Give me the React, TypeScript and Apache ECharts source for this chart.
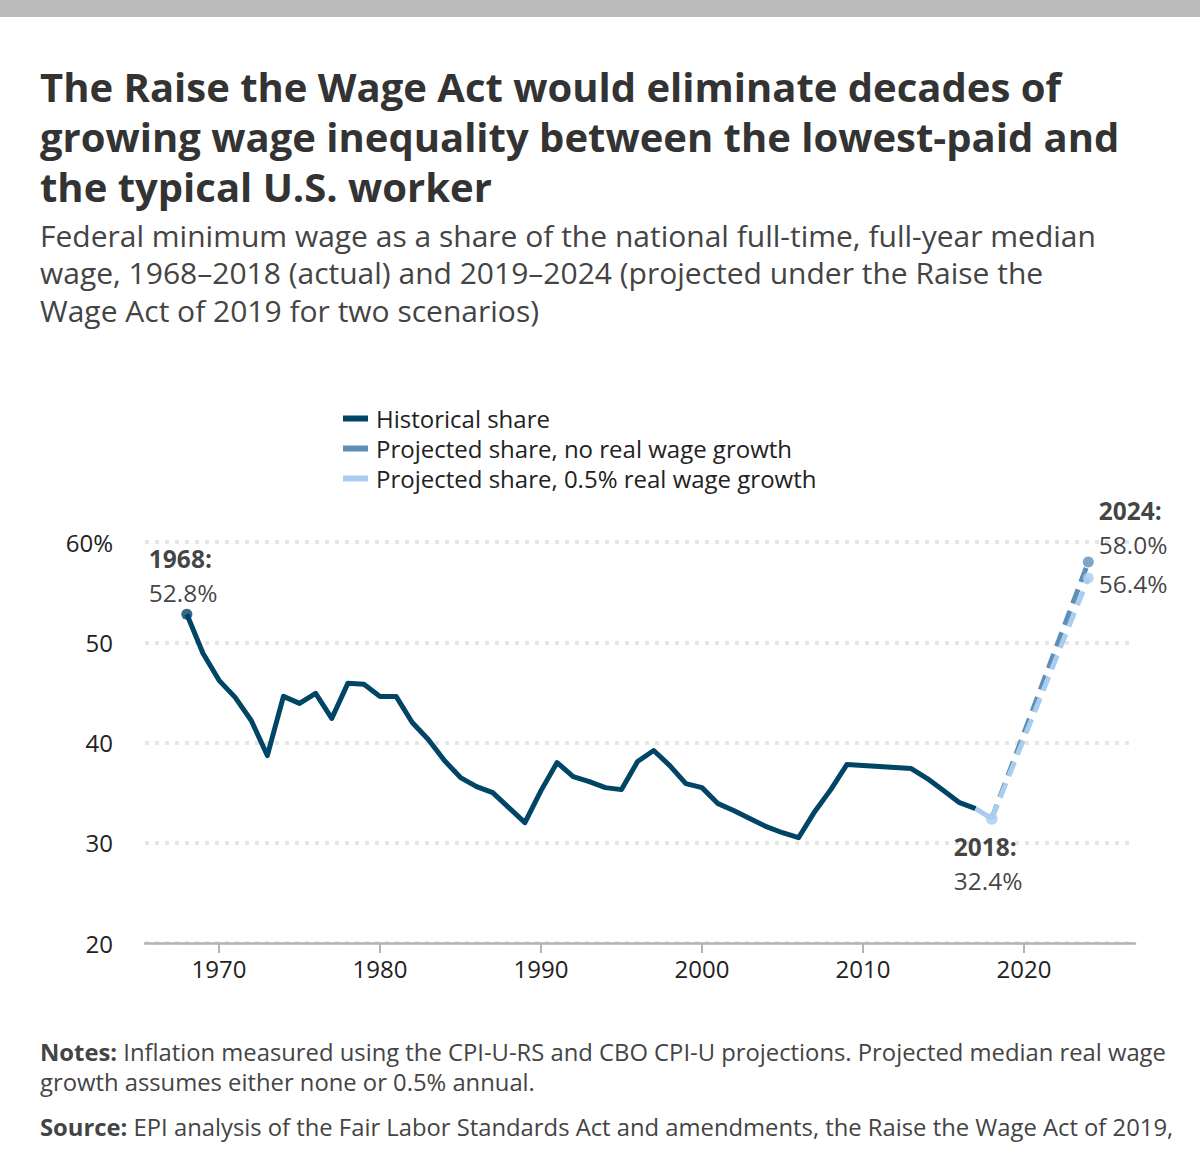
import React, { useEffect, useRef } from "react";
import * as echarts from "echarts";

const HIST_START = 1968;
const HIST_VALUES = [
  52.8, 48.9, 46.2, 44.5, 42.2, 38.7, 44.6, 43.9, 44.9, 42.4,
  45.9, 45.8, 44.6, 44.6, 42.0, 40.3, 38.2, 36.5, 35.6, 35.0,
  33.5, 32.0, 35.2, 38.0, 36.6, 36.1, 35.5, 35.3, 38.1, 39.2,
  37.7, 35.9, 35.5, 33.9, 33.2, 32.4, 31.6, 31.0, 30.5, 33.1,
  35.3, 37.8, 37.7, 37.6, 37.5, 37.4, 36.4, 35.2, 34.0, 33.4,
  32.4,
];
const PROJ_YEARS = [2018, 2024];
const NO_GROWTH = [32.4, 58.0];
const HALF_PCT_GROWTH = [32.4, 56.4];
const X_TICKS = [1970, 1980, 1990, 2000, 2010, 2020];
const Y_TICKS = { min: 20, max: 60, interval: 10 };

const SERIES_NAMES = [
  "Historical share",
  "Projected share, no real wage growth",
  "Projected share, 0.5% real wage growth",
];

const TITLE_LINES = [
  "The Raise the Wage Act would eliminate decades of",
  "growing wage inequality between the lowest-paid and",
  "the typical U.S. worker",
];
const SUBTITLE_LINES = [
  "Federal minimum wage as a share of the national full-time, full-year median",
  "wage, 1968\u20132018 (actual) and 2019\u20132024 (projected under the Raise the",
  "Wage Act of 2019 for two scenarios)",
];
const NOTES_LINES = [
  ["Notes:", " Inflation measured using the CPI-U-RS and CBO CPI-U projections. Projected median real wage"],
  ["", "growth assumes either none or 0.5% annual."],
  ["Source:", " EPI analysis of the Fair Labor Standards Act and amendments, the Raise the Wage Act of 2019,"],
];

const DARK = "#004466";
const MID = "#5e8fb7";
const LIGHT = "#a8cdee";
const FONT = "Open Sans";

export default function App() {
  const ref = useRef<HTMLDivElement>(null);

  useEffect(() => {
    document.body.style.margin = "0";
    const chart = echarts.init(ref.current!, null, { renderer: "svg" });

    const hist = HIST_VALUES.map((v, i) => [HIST_START + i, v]);
    const histDark = hist.slice(0, hist.length - 1);
    const bridge = hist.slice(hist.length - 2);
    const noGrowth = PROJ_YEARS.map((y, i) => [y, NO_GROWTH[i]]);
    const halfPct = PROJ_YEARS.map((y, i) => [y, HALF_PCT_GROWTH[i]]);

    const rich = {
      b: { fontFamily: FONT, fontSize: 24.5, fontWeight: "bold", color: "#111", lineHeight: 34 },
      v: { fontFamily: FONT, fontSize: 24.5, color: "#111", lineHeight: 34 },
    };

    const graphic: any[] = [
      { type: "rect", left: 0, top: 0, shape: { width: 1200, height: 17 }, style: { fill: "#bbbbbb" }, silent: true },
    ];
    TITLE_LINES.forEach((t, i) => {
      graphic.push({
        type: "text",
        x: 40,
        y: 86 + i * 50,
        style: { text: t, fontFamily: FONT, fontSize: 40, fontWeight: "bold", fill: "#333", verticalAlign: "middle" },
      });
    });
    SUBTITLE_LINES.forEach((t, i) => {
      graphic.push({
        type: "text",
        x: 40,
        y: 235 + i * 37.5,
        style: { text: t, fontFamily: FONT, fontSize: 30, lineHeight: 36, fill: "#444", verticalAlign: "middle" },
      });
    });
    const noteY = [1052, 1082, 1127];
    NOTES_LINES.forEach((pair, i) => {
      graphic.push({
        type: "text",
        x: 40,
        y: noteY[i],
        style: {
          text: (pair[0] ? "{b|" + pair[0] + "}" : "") + "{n|" + pair[1] + "}",
          verticalAlign: "middle",
          rich: {
            b: { fontFamily: FONT, fontSize: 23.8, fontWeight: "bold", fill: "#444" },
            n: { fontFamily: FONT, fontSize: 23.8, fill: "#444" },
          },
        },
      });
    });

    const option: any = {
      animation: false,
      textStyle: { fontFamily: FONT },
      graphic,
      legend: {
        orient: "vertical",
        left: 343,
        top: 406,
        padding: 0,
        itemWidth: 25,
        itemHeight: 6,
        itemGap: 5,
        icon: "rect",
        symbolKeepAspect: false,
        selectedMode: false,
        data: SERIES_NAMES,
        textStyle: { fontFamily: FONT, fontSize: 24, color: "#222", lineHeight: 25, padding: [0, 0, 0, 3] },
      },
      grid: { left: 145, right: 65, top: 542, bottom: 206 },
      xAxis: {
        type: "value",
        min: 1965.4,
        max: 2026.9,
        splitLine: { show: false },
        axisLine: { show: true, lineStyle: { color: "#b3b3b3", width: 2.5 } },
        axisTick: { show: true, customValues: X_TICKS, length: 10, lineStyle: { color: "#b3b3b3", width: 2 } },
        axisLabel: {
          customValues: X_TICKS,
          fontFamily: FONT,
          fontSize: 24,
          color: "#222",
          margin: 13,
          formatter: (v: number) => String(v),
        },
      },
      yAxis: {
        type: "value",
        min: Y_TICKS.min,
        max: Y_TICKS.max,
        interval: Y_TICKS.interval,
        axisLine: { show: false },
        axisTick: { show: false },
        splitLine: { lineStyle: { color: "#e6e6e6", width: 4, type: [4, 6] } },
        axisLabel: {
          fontFamily: FONT,
          fontSize: 24,
          color: "#222",
          margin: 32,
          padding: [5, 0, 0, 0],
          formatter: (v: number) => (v === Y_TICKS.max ? v + "%" : String(v)),
        },
      },
      series: [
        {
          name: SERIES_NAMES[0],
          type: "line",
          data: histDark,
          symbol: "none",
          color: DARK,
          lineStyle: { color: DARK, width: 5, join: "round" },
          z: 3,
        },
        {
          name: "bridge",
          type: "line",
          data: bridge,
          symbol: "none",
          lineStyle: { color: LIGHT, width: 5 },
          z: 3,
        },
        {
          name: SERIES_NAMES[1],
          type: "line",
          data: noGrowth,
          symbol: "none",
          color: MID,
          lineStyle: { color: MID, width: 5, type: [15, 8] },
          z: 4,
        },
        {
          name: SERIES_NAMES[2],
          type: "line",
          data: halfPct,
          symbol: "none",
          color: LIGHT,
          lineStyle: { color: LIGHT, width: 5, type: [15, 8] },
          z: 5,
        },
        {
          name: "dot1968",
          type: "scatter",
          data: [hist[0]],
          symbolSize: 11,
          itemStyle: { color: DARK },
          z: 6,
          label: {
            show: true,
            position: "top",
            align: "left",
            offset: [-38, 6],
            formatter: () => "{b|" + hist[0][0] + ":}\n{v|" + hist[0][1].toFixed(1) + "%}",
            rich,
          },
        },
        {
          name: "dot2018",
          type: "scatter",
          data: [hist[hist.length - 1]],
          symbolSize: 12,
          itemStyle: { color: LIGHT },
          z: 6,
          label: {
            show: true,
            position: "bottom",
            align: "left",
            offset: [-38, 0],
            formatter: () =>
              "{b|" + hist[hist.length - 1][0] + ":}\n{v|" + hist[hist.length - 1][1].toFixed(1) + "%}",
            rich,
          },
        },
        {
          name: "dot2024a",
          type: "scatter",
          data: [noGrowth[noGrowth.length - 1]],
          symbolSize: 11,
          itemStyle: { color: MID },
          z: 6,
          label: {
            show: true,
            position: "right",
            offset: [0, -35],
            formatter: () =>
              "{b|" + noGrowth[noGrowth.length - 1][0] + ":}\n{v|" + noGrowth[noGrowth.length - 1][1].toFixed(1) + "%}",
            rich,
          },
        },
        {
          name: "dot2024b",
          type: "scatter",
          data: [halfPct[halfPct.length - 1]],
          symbolSize: 11,
          itemStyle: { color: LIGHT },
          z: 7,
          label: {
            show: true,
            position: "right",
            offset: [0, 5],
            formatter: () => "{v|" + halfPct[halfPct.length - 1][1].toFixed(1) + "%}",
            rich,
          },
        },
      ],
    };

    chart.setOption(option);
    return () => chart.dispose();
  }, []);

  return <div ref={ref} style={{ width: 1200, height: 1149 }} />;
}
